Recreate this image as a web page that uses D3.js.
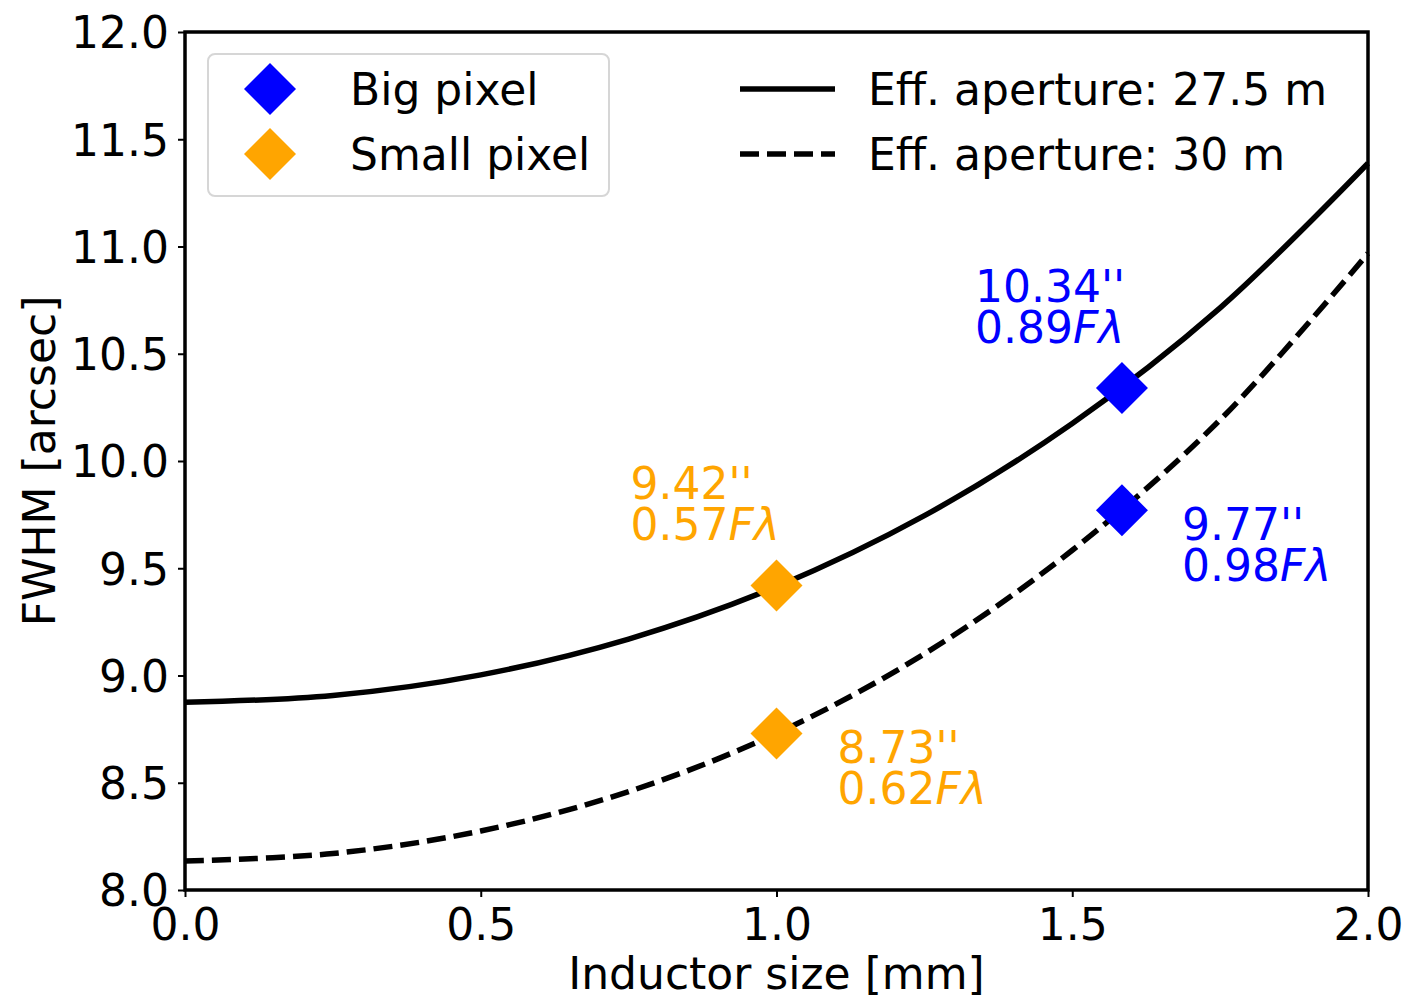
<!DOCTYPE html>
<html>
<head>
<meta charset="utf-8">
<script src="https://cdn.jsdelivr.net/npm/d3@7"></script>
<style>
  body { margin: 0; background: #fff; }
  svg { font-family: "DejaVu Sans", sans-serif; }
</style>
</head>
<body>
<div id="chart"></div>
<script>
// inductor size [mm] and FWHM [arcsec]
var sizes = [0, 0.25, 0.5, 0.75, 1.0, 1.25, 1.5, 1.75, 2.0];
var fwhm275 = [8.875, 8.907, 9.003, 9.170, 9.414, 9.745, 10.175, 10.714, 11.388];
var fwhm30 = [8.135, 8.170, 8.275, 8.459, 8.730, 9.101, 9.584, 10.192, 10.968];

var pixelNames = ["Big pixel", "Small pixel"];
var pixelColors = ["#0000ff", "#ffa500"];
var pixelSize = [1.584, 1.0];
var pixelFwhm275 = [10.34, 9.42];
var pixelFwhm30 = [9.77, 8.73];
var pixelFl275 = ["0.89", "0.57"];
var pixelFl30 = ["0.98", "0.62"];

var apertureNames = ["Eff. aperture: 27.5 m", "Eff. aperture: 30 m"];

var xTicks = [0, 0.5, 1.0, 1.5, 2.0];
var yTicks = [8.0, 8.5, 9.0, 9.5, 10.0, 10.5, 11.0, 11.5, 12.0];

var W = 1411, H = 996;
var margin = {left: 185, right: 43, top: 32, bottom: 106};

var svg = d3.select("#chart").append("svg")
    .attr("width", W)
    .attr("height", H);

var x = d3.scaleLinear().domain([0, 2]).range([margin.left, W - margin.right]);
var y = d3.scaleLinear().domain([8, 12]).range([H - margin.bottom, margin.top]);

var fs = 44;

// axes
var xAxis = svg.append("g")
    .attr("transform", "translate(0," + y(8) + ")")
    .call(d3.axisBottom(x).tickValues(xTicks).tickFormat(d3.format(".1f")).tickSize(7).tickPadding(6));
var yAxis = svg.append("g")
    .attr("transform", "translate(" + x(0) + ",0)")
    .call(d3.axisLeft(y).tickValues(yTicks).tickFormat(d3.format(".1f")).tickSize(7).tickPadding(9));

[xAxis, yAxis].forEach(function(a) {
    a.select(".domain").remove();
    a.selectAll(".tick line").attr("stroke", "#000").attr("stroke-width", 2);
    a.selectAll(".tick text").attr("font-size", fs).attr("fill", "#000")
        .attr("font-family", "DejaVu Sans");
});
xAxis.selectAll(".tick text").attr("dy", "0.84em");
yAxis.selectAll(".tick text").attr("dy", "0.36em");

// frame
svg.append("rect")
    .attr("x", x(0)).attr("y", y(12))
    .attr("width", x(2) - x(0)).attr("height", y(8) - y(12))
    .attr("fill", "none").attr("stroke", "#000").attr("stroke-width", 3.5);

// curves
var line = d3.line()
    .x(function(d) { return x(d[0]); })
    .y(function(d) { return y(d[1]); })
    .curve(d3.curveCatmullRom);

svg.append("path")
    .datum(d3.zip(sizes, fwhm275))
    .attr("d", line)
    .attr("fill", "none").attr("stroke", "#000").attr("stroke-width", 5.5);

svg.append("path")
    .datum(d3.zip(sizes, fwhm30))
    .attr("d", line)
    .attr("fill", "none").attr("stroke", "#000").attr("stroke-width", 5.5)
    .attr("stroke-dasharray", "19,8");

// diamonds
var diamond = "M0,-26L26,0L0,26L-26,0Z";
pixelNames.forEach(function(n, i) {
    [pixelFwhm275[i], pixelFwhm30[i]].forEach(function(v) {
        svg.append("path")
            .attr("d", diamond)
            .attr("transform", "translate(" + x(pixelSize[i]) + "," + y(v) + ")")
            .attr("fill", pixelColors[i]);
    });
});

// two-line value notes next to each marker
function note(i, val, fl, dx, dy) {
    var px = x(pixelSize[i]) + dx, py = y(val) + dy;
    var t = svg.append("text")
        .attr("font-size", fs)
        .attr("fill", pixelColors[i]);
    t.append("tspan").attr("x", px).attr("y", py).text(val.toFixed(2) + "''");
    var t2 = t.append("tspan").attr("x", px).attr("y", py + 41);
    t2.append("tspan").text(fl);
    t2.append("tspan").attr("font-style", "italic").text("Fλ");
}
note(0, pixelFwhm275[0], pixelFl275[0], -147, -86);
note(0, pixelFwhm30[0], pixelFl30[0], 60, 30);
note(1, pixelFwhm275[1], pixelFl275[1], -146, -86);
note(1, pixelFwhm30[1], pixelFl30[1], 61, 30);

// legend: pixels
svg.append("rect")
    .attr("x", 208).attr("y", 54).attr("width", 401).attr("height", 142)
    .attr("rx", 7)
    .attr("fill", "#fff").attr("stroke", "#d6d6d6").attr("stroke-width", 2);

pixelNames.forEach(function(n, i) {
    var ly = 89 + i * 65;
    svg.append("path")
        .attr("d", diamond)
        .attr("transform", "translate(270," + ly + ")")
        .attr("fill", pixelColors[i]);
    svg.append("text")
        .attr("x", 350).attr("y", ly + 16)
        .attr("font-size", fs)
        .text(n);
});

// legend: apertures
apertureNames.forEach(function(n, i) {
    var ly = 89 + i * 65;
    svg.append("line")
        .attr("x1", 740).attr("x2", 835).attr("y1", ly).attr("y2", ly)
        .attr("stroke", "#000").attr("stroke-width", 5.5)
        .attr("stroke-dasharray", i === 1 ? "19,8" : null);
    svg.append("text")
        .attr("x", 868).attr("y", ly + 16)
        .attr("font-size", fs)
        .text(n);
});

// axis titles
svg.append("text")
    .attr("x", x(1)).attr("y", 989)
    .attr("text-anchor", "middle")
    .attr("font-size", fs)
    .text("Inductor size [mm]");

svg.append("text")
    .attr("transform", "translate(55," + y(10) + ") rotate(-90)")
    .attr("text-anchor", "middle")
    .attr("font-size", fs)
    .text("FWHM [arcsec]");
</script>
</body>
</html>
